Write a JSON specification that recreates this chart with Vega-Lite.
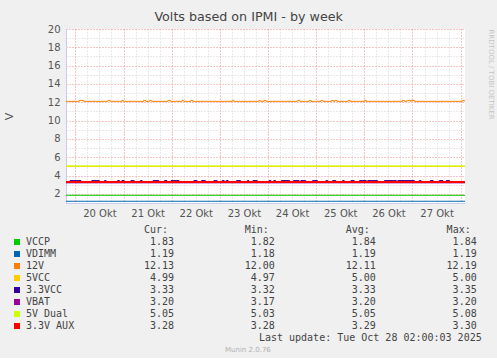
{
  "$schema": "https://vega.github.io/schema/vega-lite/v6.json",
  "background": "#f0f0f0",
  "padding": {"left": 3, "right": 3, "top": 11, "bottom": 5},
  "title": {"text": "Volts based on IPMI - by week", "font": "DejaVu Sans", "fontSize": 12.7, "fontWeight": "normal", "color": "#444444", "anchor": "middle", "offset": 0},
  "config": {"view": {"stroke": null}, "font": "DejaVu Sans"},
  "spacing": 7,
  "vconcat": [
    {
      "width": 399,
      "height": 174,
      "view": {"fill": "#ffffff", "stroke": null},
      "data": {"values": [
        {"s": "VCCP", "t": "2025-10-19T19:20", "v": 1.84},
        {"s": "VCCP", "t": "2025-10-28T02:10", "v": 1.84},
        {"s": "VDIMM", "t": "2025-10-19T19:20", "v": 1.19},
        {"s": "VDIMM", "t": "2025-10-28T02:10", "v": 1.19},
        {"s": "12V", "t": "2025-10-19T19:20", "v": 12.1},
        {"s": "12V", "t": "2025-10-20T02:00", "v": 12.2},
        {"s": "12V", "t": "2025-10-20T04:00", "v": 12.1},
        {"s": "12V", "t": "2025-10-20T16:10", "v": 12.2},
        {"s": "12V", "t": "2025-10-20T17:20", "v": 12.1},
        {"s": "12V", "t": "2025-10-20T23:10", "v": 12.2},
        {"s": "12V", "t": "2025-10-21T00:00", "v": 12.1},
        {"s": "12V", "t": "2025-10-21T10:00", "v": 12.2},
        {"s": "12V", "t": "2025-10-21T11:00", "v": 12.1},
        {"s": "12V", "t": "2025-10-21T13:00", "v": 12.2},
        {"s": "12V", "t": "2025-10-21T14:00", "v": 12.1},
        {"s": "12V", "t": "2025-10-21T22:10", "v": 12.2},
        {"s": "12V", "t": "2025-10-21T23:20", "v": 12.1},
        {"s": "12V", "t": "2025-10-22T05:10", "v": 12.2},
        {"s": "12V", "t": "2025-10-22T06:00", "v": 12.1},
        {"s": "12V", "t": "2025-10-22T09:30", "v": 12.2},
        {"s": "12V", "t": "2025-10-22T10:30", "v": 12.1},
        {"s": "12V", "t": "2025-10-23T06:10", "v": 12.2},
        {"s": "12V", "t": "2025-10-23T07:00", "v": 12.1},
        {"s": "12V", "t": "2025-10-23T19:30", "v": 12.2},
        {"s": "12V", "t": "2025-10-23T20:20", "v": 12.1},
        {"s": "12V", "t": "2025-10-23T22:00", "v": 12.2},
        {"s": "12V", "t": "2025-10-23T23:00", "v": 12.1},
        {"s": "12V", "t": "2025-10-24T14:40", "v": 12.2},
        {"s": "12V", "t": "2025-10-24T15:50", "v": 12.1},
        {"s": "12V", "t": "2025-10-24T20:30", "v": 12.2},
        {"s": "12V", "t": "2025-10-24T21:30", "v": 12.1},
        {"s": "12V", "t": "2025-10-25T02:30", "v": 12.2},
        {"s": "12V", "t": "2025-10-25T03:30", "v": 12.1},
        {"s": "12V", "t": "2025-10-25T07:40", "v": 12.2},
        {"s": "12V", "t": "2025-10-25T08:40", "v": 12.1},
        {"s": "12V", "t": "2025-10-25T09:20", "v": 12.2},
        {"s": "12V", "t": "2025-10-25T10:20", "v": 12.1},
        {"s": "12V", "t": "2025-10-25T16:00", "v": 12.2},
        {"s": "12V", "t": "2025-10-25T17:00", "v": 12.1},
        {"s": "12V", "t": "2025-10-26T00:00", "v": 12.2},
        {"s": "12V", "t": "2025-10-26T01:00", "v": 12.1},
        {"s": "12V", "t": "2025-10-26T19:00", "v": 12.2},
        {"s": "12V", "t": "2025-10-26T20:00", "v": 12.1},
        {"s": "12V", "t": "2025-10-26T21:20", "v": 12.2},
        {"s": "12V", "t": "2025-10-26T23:00", "v": 12.1},
        {"s": "12V", "t": "2025-10-26T23:20", "v": 12.2},
        {"s": "12V", "t": "2025-10-27T01:00", "v": 12.1},
        {"s": "12V", "t": "2025-10-28T00:50", "v": 12.2},
        {"s": "12V", "t": "2025-10-28T01:50", "v": 12.13},
        {"s": "12V", "t": "2025-10-28T02:10", "v": 12.13},
        {"s": "5VCC", "t": "2025-10-19T19:20", "v": 5.0},
        {"s": "5VCC", "t": "2025-10-28T02:10", "v": 5.0},
        {"s": "3.3VCC", "t": "2025-10-19T19:20", "v": 3.33},
        {"s": "3.3VCC", "t": "2025-10-19T21:20", "v": 3.45},
        {"s": "3.3VCC", "t": "2025-10-20T02:50", "v": 3.33},
        {"s": "3.3VCC", "t": "2025-10-20T08:10", "v": 3.45},
        {"s": "3.3VCC", "t": "2025-10-20T12:00", "v": 3.33},
        {"s": "3.3VCC", "t": "2025-10-20T14:30", "v": 3.45},
        {"s": "3.3VCC", "t": "2025-10-20T15:20", "v": 3.33},
        {"s": "3.3VCC", "t": "2025-10-20T21:00", "v": 3.45},
        {"s": "3.3VCC", "t": "2025-10-20T22:00", "v": 3.33},
        {"s": "3.3VCC", "t": "2025-10-20T23:10", "v": 3.45},
        {"s": "3.3VCC", "t": "2025-10-21T00:20", "v": 3.33},
        {"s": "3.3VCC", "t": "2025-10-21T03:40", "v": 3.45},
        {"s": "3.3VCC", "t": "2025-10-21T05:20", "v": 3.33},
        {"s": "3.3VCC", "t": "2025-10-21T08:20", "v": 3.45},
        {"s": "3.3VCC", "t": "2025-10-21T09:20", "v": 3.33},
        {"s": "3.3VCC", "t": "2025-10-21T14:40", "v": 3.45},
        {"s": "3.3VCC", "t": "2025-10-21T17:40", "v": 3.33},
        {"s": "3.3VCC", "t": "2025-10-21T20:20", "v": 3.45},
        {"s": "3.3VCC", "t": "2025-10-21T21:40", "v": 3.33},
        {"s": "3.3VCC", "t": "2025-10-21T23:40", "v": 3.45},
        {"s": "3.3VCC", "t": "2025-10-22T03:40", "v": 3.33},
        {"s": "3.3VCC", "t": "2025-10-22T11:00", "v": 3.45},
        {"s": "3.3VCC", "t": "2025-10-22T12:40", "v": 3.33},
        {"s": "3.3VCC", "t": "2025-10-22T14:50", "v": 3.45},
        {"s": "3.3VCC", "t": "2025-10-22T16:50", "v": 3.33},
        {"s": "3.3VCC", "t": "2025-10-22T21:00", "v": 3.45},
        {"s": "3.3VCC", "t": "2025-10-22T22:40", "v": 3.33},
        {"s": "3.3VCC", "t": "2025-10-23T01:10", "v": 3.45},
        {"s": "3.3VCC", "t": "2025-10-23T02:10", "v": 3.33},
        {"s": "3.3VCC", "t": "2025-10-23T03:10", "v": 3.45},
        {"s": "3.3VCC", "t": "2025-10-23T04:10", "v": 3.33},
        {"s": "3.3VCC", "t": "2025-10-23T08:20", "v": 3.45},
        {"s": "3.3VCC", "t": "2025-10-23T10:20", "v": 3.33},
        {"s": "3.3VCC", "t": "2025-10-23T13:40", "v": 3.45},
        {"s": "3.3VCC", "t": "2025-10-23T14:30", "v": 3.33},
        {"s": "3.3VCC", "t": "2025-10-23T16:30", "v": 3.45},
        {"s": "3.3VCC", "t": "2025-10-23T18:40", "v": 3.33},
        {"s": "3.3VCC", "t": "2025-10-24T00:30", "v": 3.45},
        {"s": "3.3VCC", "t": "2025-10-24T01:30", "v": 3.33},
        {"s": "3.3VCC", "t": "2025-10-24T02:50", "v": 3.45},
        {"s": "3.3VCC", "t": "2025-10-24T03:50", "v": 3.33},
        {"s": "3.3VCC", "t": "2025-10-24T06:40", "v": 3.45},
        {"s": "3.3VCC", "t": "2025-10-24T10:50", "v": 3.33},
        {"s": "3.3VCC", "t": "2025-10-24T12:40", "v": 3.45},
        {"s": "3.3VCC", "t": "2025-10-24T15:30", "v": 3.33},
        {"s": "3.3VCC", "t": "2025-10-24T16:20", "v": 3.45},
        {"s": "3.3VCC", "t": "2025-10-24T18:50", "v": 3.33},
        {"s": "3.3VCC", "t": "2025-10-24T22:10", "v": 3.45},
        {"s": "3.3VCC", "t": "2025-10-25T00:40", "v": 3.33},
        {"s": "3.3VCC", "t": "2025-10-25T04:50", "v": 3.45},
        {"s": "3.3VCC", "t": "2025-10-25T05:50", "v": 3.33},
        {"s": "3.3VCC", "t": "2025-10-25T08:10", "v": 3.45},
        {"s": "3.3VCC", "t": "2025-10-25T09:50", "v": 3.33},
        {"s": "3.3VCC", "t": "2025-10-25T13:10", "v": 3.45},
        {"s": "3.3VCC", "t": "2025-10-25T14:00", "v": 3.33},
        {"s": "3.3VCC", "t": "2025-10-25T17:20", "v": 3.45},
        {"s": "3.3VCC", "t": "2025-10-25T19:00", "v": 3.33},
        {"s": "3.3VCC", "t": "2025-10-25T21:30", "v": 3.45},
        {"s": "3.3VCC", "t": "2025-10-26T01:00", "v": 3.33},
        {"s": "3.3VCC", "t": "2025-10-26T01:40", "v": 3.45},
        {"s": "3.3VCC", "t": "2025-10-26T06:40", "v": 3.33},
        {"s": "3.3VCC", "t": "2025-10-26T10:00", "v": 3.45},
        {"s": "3.3VCC", "t": "2025-10-26T16:00", "v": 3.33},
        {"s": "3.3VCC", "t": "2025-10-26T16:40", "v": 3.45},
        {"s": "3.3VCC", "t": "2025-10-27T01:00", "v": 3.33},
        {"s": "3.3VCC", "t": "2025-10-27T03:20", "v": 3.45},
        {"s": "3.3VCC", "t": "2025-10-27T04:20", "v": 3.33},
        {"s": "3.3VCC", "t": "2025-10-27T08:50", "v": 3.45},
        {"s": "3.3VCC", "t": "2025-10-27T10:20", "v": 3.33},
        {"s": "3.3VCC", "t": "2025-10-27T13:20", "v": 3.45},
        {"s": "3.3VCC", "t": "2025-10-27T15:10", "v": 3.33},
        {"s": "3.3VCC", "t": "2025-10-27T16:50", "v": 3.45},
        {"s": "3.3VCC", "t": "2025-10-27T18:30", "v": 3.33},
        {"s": "3.3VCC", "t": "2025-10-28T02:10", "v": 3.33},
        {"s": "VBAT", "t": "2025-10-19T19:20", "v": 3.2},
        {"s": "VBAT", "t": "2025-10-28T02:10", "v": 3.2},
        {"s": "5V Dual", "t": "2025-10-19T19:20", "v": 5.05},
        {"s": "5V Dual", "t": "2025-10-28T02:10", "v": 5.05},
        {"s": "3.3V AUX", "t": "2025-10-19T19:20", "v": 3.29},
        {"s": "3.3V AUX", "t": "2025-10-28T02:10", "v": 3.29}
      ]},
      "layer": [
        {
          "transform": [{"filter": "datum.s !== '3.3V AUX'"}],
          "mark": {"type": "line", "interpolate": "step-after", "strokeWidth": 1, "clip": true},
          "encoding": {
            "x": {"field": "t", "type": "temporal",
              "scale": {"domain": [{"year": 2025, "month": 10, "date": 19, "hours": 19, "minutes": 20}, {"year": 2025, "month": 10, "date": 28, "hours": 2, "minutes": 10}]},
              "axis": {"orient": "bottom", "values": [
                {"year": 2025, "month": 10, "date": 20, "hours": 6}, {"year": 2025, "month": 10, "date": 20, "hours": 12}, {"year": 2025, "month": 10, "date": 20, "hours": 18},
                {"year": 2025, "month": 10, "date": 21, "hours": 6}, {"year": 2025, "month": 10, "date": 21, "hours": 12}, {"year": 2025, "month": 10, "date": 21, "hours": 18},
                {"year": 2025, "month": 10, "date": 22, "hours": 6}, {"year": 2025, "month": 10, "date": 22, "hours": 12}, {"year": 2025, "month": 10, "date": 22, "hours": 18},
                {"year": 2025, "month": 10, "date": 23, "hours": 6}, {"year": 2025, "month": 10, "date": 23, "hours": 12}, {"year": 2025, "month": 10, "date": 23, "hours": 18},
                {"year": 2025, "month": 10, "date": 24, "hours": 6}, {"year": 2025, "month": 10, "date": 24, "hours": 12}, {"year": 2025, "month": 10, "date": 24, "hours": 18},
                {"year": 2025, "month": 10, "date": 25, "hours": 6}, {"year": 2025, "month": 10, "date": 25, "hours": 12}, {"year": 2025, "month": 10, "date": 25, "hours": 18},
                {"year": 2025, "month": 10, "date": 26, "hours": 6}, {"year": 2025, "month": 10, "date": 26, "hours": 12}, {"year": 2025, "month": 10, "date": 26, "hours": 18},
                {"year": 2025, "month": 10, "date": 27, "hours": 6}, {"year": 2025, "month": 10, "date": 27, "hours": 12}, {"year": 2025, "month": 10, "date": 27, "hours": 18}
              ], "grid": true, "gridColor": "#d4d4d4", "gridDash": [1, 2], "labels": false, "ticks": false, "domain": false, "title": null}},
            "y": {"field": "v", "type": "quantitative",
              "scale": {"domain": [1, 20], "nice": false, "zero": false},
              "axis": {"orient": "left", "values": [3, 5, 7, 9, 11, 13, 15, 17, 19], "grid": true, "gridColor": "#d4d4d4", "gridDash": [1, 2], "labels": false, "ticks": false, "domain": false, "title": null}},
            "color": {"field": "s", "type": "nominal",
              "scale": {"domain": ["VCCP", "VDIMM", "12V", "5VCC", "3.3VCC", "VBAT", "5V Dual", "3.3V AUX"], "range": ["#00cc00", "#0066b3", "#ff8000", "#ffcc00", "#330099", "#990099", "#ccff00", "#ff0000"]},
              "legend": null}
          }
        },
        {
          "transform": [{"filter": "datum.s === '3.3V AUX'"}],
          "mark": {"type": "line", "interpolate": "step-after", "strokeWidth": 2, "clip": true},
          "encoding": {
            "x": {"field": "t", "type": "temporal",
              "axis": {"orient": "bottom", "values": [
                {"year": 2025, "month": 10, "date": 20}, {"year": 2025, "month": 10, "date": 21}, {"year": 2025, "month": 10, "date": 22},
                {"year": 2025, "month": 10, "date": 23}, {"year": 2025, "month": 10, "date": 24}, {"year": 2025, "month": 10, "date": 25},
                {"year": 2025, "month": 10, "date": 26}, {"year": 2025, "month": 10, "date": 27}, {"year": 2025, "month": 10, "date": 28}
              ], "grid": true, "gridColor": "#eb8c8c", "gridDash": [1, 2], "ticks": false, "labels": false, "domain": true, "domainColor": "#c8ccf0", "title": null}},
            "y": {"field": "v", "type": "quantitative",
              "axis": {"orient": "left", "values": [2, 4, 6, 8, 10, 12, 14, 16, 18, 20], "grid": true, "gridColor": "#eb8c8c", "gridDash": [1, 2], "ticks": false, "domain": true, "domainColor": "#c8ccf0", "labelFont": "DejaVu Sans", "labelFontSize": 10, "labelColor": "#555555", "labelPadding": 6, "title": "V", "titleFont": "DejaVu Sans", "titleFontSize": 11, "titleFontWeight": "normal", "titleColor": "#555555", "titlePadding": 33}},
            "color": {"field": "s", "type": "nominal", "legend": null}
          }
        },
        {
          "data": {"values": [{"t": "2025-10-24T00:00", "v": 20}]},
          "mark": {"type": "point", "opacity": 0},
          "encoding": {
            "x": {"field": "t", "type": "temporal",
              "axis": {"orient": "bottom", "values": [
                {"year": 2025, "month": 10, "date": 20, "hours": 12}, {"year": 2025, "month": 10, "date": 21, "hours": 12}, {"year": 2025, "month": 10, "date": 22, "hours": 12},
                {"year": 2025, "month": 10, "date": 23, "hours": 12}, {"year": 2025, "month": 10, "date": 24, "hours": 12}, {"year": 2025, "month": 10, "date": 25, "hours": 12},
                {"year": 2025, "month": 10, "date": 26, "hours": 12}, {"year": 2025, "month": 10, "date": 27, "hours": 12}
              ], "format": "%d Okt", "grid": false, "ticks": false, "domain": false, "labelPadding": 5, "labelFont": "DejaVu Sans", "labelFontSize": 10, "labelColor": "#555555", "labelFlush": false, "labelOverlap": false, "title": null}},
            "y": {"field": "v", "type": "quantitative",
              "axis": {"orient": "right", "title": "RRDTOOL / TOBI OETIKER", "titleAngle": 90, "titleFont": "DejaVu Sans", "titleFontSize": 7, "titleFontWeight": "normal", "titleColor": "#c4c4c4", "titleAnchor": "end", "titleAlign": "left", "titlePadding": 22, "labels": false, "ticks": false, "domain": false, "grid": false}}
          }
        }
      ],
      "resolve": {"axis": {"x": "independent", "y": "independent"}}
    },
    {
      "width": 411,
      "height": 120,
      "view": {"stroke": null},
      "encoding": {
        "y": {"field": "s", "type": "nominal",
          "scale": {"type": "point", "padding": 0, "domain": ["hdr", "VCCP", "VDIMM", "12V", "5VCC", "3.3VCC", "VBAT", "5V Dual", "3.3V AUX", "upd", "munin"], "range": [0, 120]},
          "axis": null}
      },
      "layer": [
        {
          "data": {"values": [
            {"s": "VCCP", "stat": "Cur", "txt": "1.83"}, {"s": "VCCP", "stat": "Min", "txt": "1.82"}, {"s": "VCCP", "stat": "Avg", "txt": "1.84"}, {"s": "VCCP", "stat": "Max", "txt": "1.84"},
            {"s": "VDIMM", "stat": "Cur", "txt": "1.19"}, {"s": "VDIMM", "stat": "Min", "txt": "1.18"}, {"s": "VDIMM", "stat": "Avg", "txt": "1.19"}, {"s": "VDIMM", "stat": "Max", "txt": "1.19"},
            {"s": "12V", "stat": "Cur", "txt": "12.13"}, {"s": "12V", "stat": "Min", "txt": "12.00"}, {"s": "12V", "stat": "Avg", "txt": "12.11"}, {"s": "12V", "stat": "Max", "txt": "12.19"},
            {"s": "5VCC", "stat": "Cur", "txt": "4.99"}, {"s": "5VCC", "stat": "Min", "txt": "4.97"}, {"s": "5VCC", "stat": "Avg", "txt": "5.00"}, {"s": "5VCC", "stat": "Max", "txt": "5.00"},
            {"s": "3.3VCC", "stat": "Cur", "txt": "3.33"}, {"s": "3.3VCC", "stat": "Min", "txt": "3.32"}, {"s": "3.3VCC", "stat": "Avg", "txt": "3.33"}, {"s": "3.3VCC", "stat": "Max", "txt": "3.35"},
            {"s": "VBAT", "stat": "Cur", "txt": "3.20"}, {"s": "VBAT", "stat": "Min", "txt": "3.17"}, {"s": "VBAT", "stat": "Avg", "txt": "3.20"}, {"s": "VBAT", "stat": "Max", "txt": "3.20"},
            {"s": "5V Dual", "stat": "Cur", "txt": "5.05"}, {"s": "5V Dual", "stat": "Min", "txt": "5.03"}, {"s": "5V Dual", "stat": "Avg", "txt": "5.05"}, {"s": "5V Dual", "stat": "Max", "txt": "5.08"},
            {"s": "3.3V AUX", "stat": "Cur", "txt": "3.28"}, {"s": "3.3V AUX", "stat": "Min", "txt": "3.28"}, {"s": "3.3V AUX", "stat": "Avg", "txt": "3.29"}, {"s": "3.3V AUX", "stat": "Max", "txt": "3.30"}
          ]},
          "mark": {"type": "text", "align": "right", "baseline": "middle", "font": "DejaVu Sans Mono", "fontSize": 10, "color": "#444444"},
          "encoding": {
            "x": {"field": "stat", "type": "nominal", "scale": {"type": "point", "padding": 0, "domain": ["Cur", "Min", "Avg", "Max"], "range": [108, 410.7]}, "axis": null},
            "text": {"field": "txt"}
          }
        },
        {
          "data": {"values": [
            {"s": "hdr", "stat": "Cur", "txt": "Cur:"}, {"s": "hdr", "stat": "Min", "txt": "Min:"}, {"s": "hdr", "stat": "Avg", "txt": "Avg:"}, {"s": "hdr", "stat": "Max", "txt": "Max:"}
          ]},
          "mark": {"type": "text", "align": "right", "baseline": "middle", "dx": -6, "font": "DejaVu Sans Mono", "fontSize": 10, "color": "#444444"},
          "encoding": {
            "x": {"field": "stat", "type": "nominal"},
            "text": {"field": "txt"}
          }
        },
        {
          "data": {"values": [
            {"s": "VCCP"}, {"s": "VDIMM"}, {"s": "12V"}, {"s": "5VCC"}, {"s": "3.3VCC"}, {"s": "VBAT"}, {"s": "5V Dual"}, {"s": "3.3V AUX"}
          ]},
          "mark": {"type": "text", "align": "left", "baseline": "middle", "dx": -148, "font": "DejaVu Sans Mono", "fontSize": 10, "color": "#444444"},
          "encoding": {
            "x": {"datum": "Cur", "type": "nominal"},
            "text": {"field": "s"}
          }
        },
        {
          "data": {"values": [
            {"s": "VCCP"}, {"s": "VDIMM"}, {"s": "12V"}, {"s": "5VCC"}, {"s": "3.3VCC"}, {"s": "VBAT"}, {"s": "5V Dual"}, {"s": "3.3V AUX"}
          ]},
          "mark": {"type": "square", "filled": true, "opacity": 1, "size": 36, "xOffset": -157},
          "encoding": {
            "x": {"datum": "Cur", "type": "nominal"},
            "color": {"field": "s", "type": "nominal", "legend": null}
          }
        },
        {
          "data": {"values": [{"s": "upd", "txt": "Last update: Tue Oct 28 02:00:03 2025"}]},
          "mark": {"type": "text", "align": "right", "baseline": "middle", "dx": 5, "font": "DejaVu Sans Mono", "fontSize": 10, "color": "#444444"},
          "encoding": {
            "x": {"datum": "Max", "type": "nominal"},
            "text": {"field": "txt"}
          }
        },
        {
          "data": {"values": [{"s": "munin", "txt": "Munin 2.0.76"}]},
          "mark": {"type": "text", "align": "center", "baseline": "middle", "dx": -27, "font": "DejaVu Sans", "fontSize": 7, "color": "#b0b0b0"},
          "encoding": {
            "x": {"datum": "Min", "type": "nominal"},
            "text": {"field": "txt"}
          }
        }
      ]
    }
  ]
}
